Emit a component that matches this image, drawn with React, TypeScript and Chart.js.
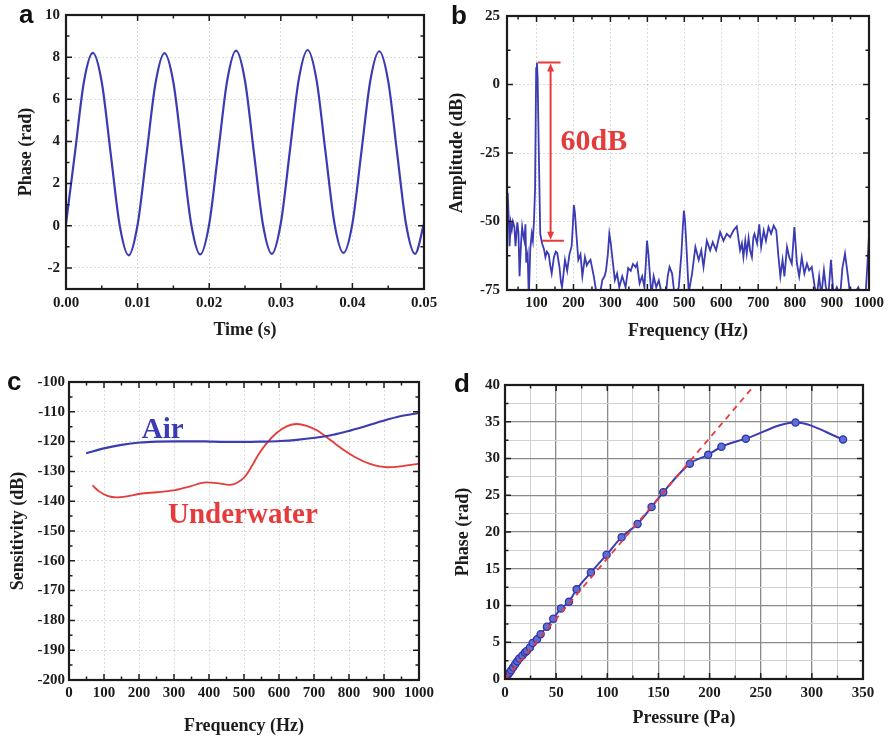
import React, { useEffect, useRef } from 'react';
import { Chart, registerables } from 'chart.js';

Chart.register(...registerables);

const SERIF = '"Liberation Serif", "Times New Roman", serif';
const SANS = '"Liberation Sans", Arial, sans-serif';
const BLUE = '#3b3bb3';
const RED = '#e63b3b';
const INK = '#1c1c1c';

// ---------- Panel a: phase vs time ----------
const timeS = [
  0, 0.00125, 0.0025, 0.00375, 0.005, 0.00625, 0.0075, 0.00875,
  0.01, 0.01125, 0.0125, 0.01375, 0.015, 0.01625, 0.0175, 0.01875,
  0.02, 0.02125, 0.0225, 0.02375, 0.025, 0.02625, 0.0275, 0.02875,
  0.03, 0.03125, 0.0325, 0.03375, 0.035, 0.03625, 0.0375, 0.03875,
  0.04, 0.04125, 0.0425, 0.04375, 0.045, 0.04625, 0.0475, 0.04875,
  0.05,
];
const phaseRad = [
  0.10, 3.45, 6.82, 8.20, 6.80, 3.40, 0.02, -1.40,
  0.05, 3.40, 6.76, 8.19, 6.80, 3.42, 0.05, -1.36,
  0.08, 3.46, 6.86, 8.31, 6.88, 3.46, 0.07, -1.33,
  0.12, 3.50, 6.92, 8.34, 6.90, 3.48, 0.10, -1.29,
  0.10, 3.48, 6.88, 8.28, 6.86, 3.44, 0.06, -1.33,
  0.10,
];
const aXTicks = [0, 0.01, 0.02, 0.03, 0.04, 0.05];
const aYTicks = [-2, 0, 2, 4, 6, 8, 10];

// ---------- Panel b: spectrum ----------
const specFreq = [
  20, 22, 25, 27, 30, 33, 36, 40, 43, 48,
  51, 54, 58, 61, 64, 67, 70, 72, 76, 79,
  83, 87, 90, 93, 96, 99, 101, 103, 106, 110,
  115, 120, 124, 128, 133, 137, 141, 147, 152, 156,
  162, 166, 169, 173, 177, 183, 189, 195, 198, 201,
  204, 207, 213, 219, 224, 231, 236, 240, 246, 255,
  262, 270, 278, 284, 288, 293, 297, 301, 305, 312,
  318, 324, 332, 341, 348, 355, 361, 368, 372, 379,
  386, 392, 396, 399, 403, 406, 411, 417, 424, 431,
  440, 449, 455, 460, 467, 472, 476, 485, 492, 496,
  499, 502, 505, 512, 521, 530, 539, 546, 552, 561,
  570, 577, 586, 597, 606, 615, 624, 633, 642, 651,
  656, 660, 665, 669, 674, 678, 683, 687, 690, 697,
  703, 708, 715, 721, 728, 735, 742, 749, 755, 760,
  766, 771, 778, 784, 791, 798, 805, 811, 818, 825,
  832, 838, 845, 853, 859, 865, 871, 878, 883, 890,
  897, 904, 913, 922, 928, 935, 943, 949, 962, 971,
  979, 991, 996, 1000,
];
const specAmp = [
  -40, -39.5, -50, -59, -50.5, -53, -50, -52, -59, -50.3,
  -54, -70, -58, -52, -55, -57, -51, -65, -62, -78,
  -60, -54.5, -57, -50, -38, 6, 8, 2, -24, -54.5,
  -58, -60, -63, -61, -62, -66, -69, -63, -61, -61.5,
  -66.6, -72, -74, -69, -64, -68, -62, -59, -52, -44,
  -47, -53, -64, -62, -70, -63, -66, -65, -64, -70,
  -76, -78, -71.4, -70, -68, -62, -54.5, -58, -63, -71.4,
  -69, -74, -70, -74, -67, -68, -65.5, -66.6, -65.4, -72.6,
  -70, -74, -65, -57, -62, -68, -77, -70, -74, -71.5,
  -77, -78, -70, -66.6, -69, -75, -77, -74, -62, -52,
  -46, -50, -57, -76, -69, -59.3, -64, -60.5, -66.6, -57,
  -60.5, -57.5, -60.5, -53.9, -57, -54.5, -55.7, -53.3, -51.8, -60.5,
  -58, -63, -57, -61.7, -56, -60.5, -63, -55.7, -54.5, -58,
  -51, -59.3, -53.3, -57, -52, -54.5, -51.5, -53.3, -63, -70,
  -64, -70, -59.3, -63, -65.4, -52, -65.4, -70, -63, -69,
  -65.4, -67.8, -66.6, -73.8, -77, -70, -77, -67.8, -73.8, -77,
  -64, -77, -74, -77, -67, -61.7, -70, -77, -76, -74,
  -77, -76, -65, -55,
];
const bXTicks = [100, 200, 300, 400, 500, 600, 700, 800, 900, 1000];
const bYTicks = [-75, -50, -25, 0, 25];
const dbArrowFreq = 138;
const dbTop = 8;
const dbBottom = -57;
const dbTopCap = [104, 165];
const dbBottomCap = [115, 174];
const dbLabel = '60dB';
const dbLabelAt = [165, -24];

// ---------- Panel c: sensitivity ----------
const airFreq = [49, 103, 150, 203, 250, 308, 374, 403, 450, 503, 550, 603, 651, 703, 755, 803, 851, 898, 946, 1000];
const airSens = [-123.9, -122.2, -121.1, -120.3, -120.0, -119.9, -119.9, -120.0, -120.1, -120.1, -120.0, -119.8, -119.4, -118.7, -117.7, -116.3, -114.7, -113.0, -111.5, -110.4];
const waterFreq = [67, 86, 110, 136, 165, 203, 250, 298, 346, 393, 422, 460, 479, 503, 522, 541, 565, 593, 622, 651, 679, 708, 746, 784, 822, 860, 908, 946, 1000];
const waterSens = [-134.7, -136.7, -138.2, -138.7, -138.4, -137.5, -137.0, -136.4, -135.0, -133.7, -133.9, -134.5, -133.9, -131.7, -128.3, -124.4, -120.5, -117.1, -114.9, -114.1, -114.7, -116.2, -119.4, -122.7, -125.5, -127.5, -128.6, -128.3, -127.4];
const cXTicks = [0, 100, 200, 300, 400, 500, 600, 700, 800, 900, 1000];
const cYTicks = [-200, -190, -180, -170, -160, -150, -140, -130, -120, -110, -100];
const airLabelAt = [208, -118.8];
const waterLabelAt = [283, -147.3];

// ---------- Panel d: phase vs pressure ----------
const pressurePa = [0, 1.5, 3, 4.5, 6, 8, 10, 12, 14, 17, 19.5, 21.2, 24.4, 27, 31.3, 34.8, 41, 47.2, 54.7, 62.5, 70, 84, 99.3, 114, 129.6, 143.3, 154.7, 180.7, 198.6, 211.6, 235.4, 284, 330.5];
const phaseD = [0, 0.3, 0.6, 0.9, 1.2, 1.6, 2.0, 2.4, 2.8, 3.2, 3.6, 3.8, 4.3, 4.9, 5.4, 6.1, 7.1, 8.2, 9.6, 10.5, 12.2, 14.5, 16.9, 19.3, 21.1, 23.4, 25.4, 29.3, 30.5, 31.6, 32.7, 34.9, 32.6];
const fitPressure = [0, 241];
const fitPhase = [0, 39.5];
const dXTicks = [0, 25, 50, 75, 100, 125, 150, 175, 200, 225, 250, 275, 300, 325, 350];
const dYTicks = [0, 2.5, 5, 7.5, 10, 12.5, 15, 17.5, 20, 22.5, 25, 27.5, 30, 32.5, 35, 37.5, 40];

// ---------- helpers ----------
const pts = (xs: number[], ys: number[]) => xs.map((x, i) => ({ x, y: ys[i] }));

const framePlugin = {
  id: 'frame',
  afterDraw(chart: any, _args: any, opts: any) {
    const { ctx, chartArea: a } = chart;
    const xs = chart.scales.x;
    const ys = chart.scales.y;
    ctx.save();
    ctx.strokeStyle = INK;
    ctx.lineWidth = 1.5;
    const marks = (scale: any, minor: number, major: number, horizontal: boolean) => {
      const start = Math.ceil(scale.min / minor - 1e-9) * minor;
      const n = Math.floor((scale.max - start) / minor + 1e-9);
      for (let i = 0; i <= n; i++) {
        const v = start + i * minor;
        const r = v / major;
        const isMajor = Math.abs(r - Math.round(r)) < 1e-6;
        const len = isMajor ? 6 : 3.5;
        const p = scale.getPixelForValue(v);
        ctx.beginPath();
        if (horizontal) {
          ctx.moveTo(p, a.bottom); ctx.lineTo(p, a.bottom - len);
          ctx.moveTo(p, a.top); ctx.lineTo(p, a.top + len);
        } else {
          ctx.moveTo(a.left, p); ctx.lineTo(a.left + len, p);
          ctx.moveTo(a.right, p); ctx.lineTo(a.right - len, p);
        }
        ctx.stroke();
      }
    };
    marks(xs, opts.xMinor, opts.xMajor, true);
    marks(ys, opts.yMinor, opts.yMajor, false);
    ctx.lineWidth = 2.2;
    ctx.strokeRect(a.left, a.top, a.right - a.left, a.bottom - a.top);
    ctx.restore();
  },
};

const textPlugin = {
  id: 'texts',
  afterDatasetsDraw(chart: any, _args: any, opts: any) {
    const { ctx } = chart;
    const xs = chart.scales.x;
    const ys = chart.scales.y;
    ctx.save();
    for (const t of opts.items || []) {
      ctx.font = t.font;
      ctx.fillStyle = t.color;
      ctx.textAlign = 'left';
      ctx.textBaseline = 'alphabetic';
      ctx.fillText(t.text, xs.getPixelForValue(t.x), ys.getPixelForValue(t.y));
    }
    ctx.restore();
  },
};

const arrowPlugin = {
  id: 'dbArrow',
  afterDatasetsDraw(chart: any) {
    const { ctx } = chart;
    const xs = chart.scales.x;
    const ys = chart.scales.y;
    const xp = xs.getPixelForValue(dbArrowFreq);
    const yt = ys.getPixelForValue(dbTop);
    const yb = ys.getPixelForValue(dbBottom);
    ctx.save();
    ctx.strokeStyle = RED;
    ctx.fillStyle = RED;
    ctx.lineWidth = 2;
    ctx.beginPath();
    ctx.moveTo(xp, yt + 6); ctx.lineTo(xp, yb - 6);
    ctx.moveTo(xs.getPixelForValue(dbTopCap[0]), yt); ctx.lineTo(xs.getPixelForValue(dbTopCap[1]), yt);
    ctx.moveTo(xs.getPixelForValue(dbBottomCap[0]), yb); ctx.lineTo(xs.getPixelForValue(dbBottomCap[1]), yb);
    ctx.stroke();
    ctx.beginPath();
    ctx.moveTo(xp, yt + 1); ctx.lineTo(xp - 3.5, yt + 9); ctx.lineTo(xp + 3.5, yt + 9); ctx.closePath();
    ctx.moveTo(xp, yb - 1); ctx.lineTo(xp - 3.5, yb - 9); ctx.lineTo(xp + 3.5, yb - 9); ctx.closePath();
    ctx.fill();
    ctx.font = `bold 30px ${SERIF}`;
    ctx.textBaseline = 'alphabetic';
    ctx.fillText(dbLabel, xs.getPixelForValue(dbLabelAt[0]), ys.getPixelForValue(dbLabelAt[1]));
    ctx.restore();
  },
};

type AxisP = {
  min: number; max: number; ticks: number[]; fmt: (v: number) => string; title: string;
  titlePad: number; tickPad: number; size: number; horizontal: boolean; grid: any; dash?: number[];
};

function axis(p: AxisP) {
  return {
    type: 'linear',
    min: p.min,
    max: p.max,
    afterBuildTicks: (s: any) => { s.ticks = p.ticks.map((v) => ({ value: v })); },
    afterFit: (s: any) => { if (p.horizontal) s.height = p.size; else s.width = p.size; },
    ticks: {
      callback: (v: any) => p.fmt(Number(v)),
      padding: p.tickPad,
      color: INK,
      font: { family: SERIF, weight: 'bold', size: 15 },
      maxRotation: 0, minRotation: 0, autoSkip: false,
    },
    grid: { drawTicks: false, ...p.grid },
    border: { display: false, dash: p.dash || [] },
    title: {
      display: true, text: p.title, color: INK,
      font: { family: SERIF, weight: 'bold', size: 18, lineHeight: 1 },
      padding: p.horizontal ? { top: 0, bottom: p.titlePad } : { top: p.titlePad, bottom: 0 },
    },
  };
}

const baseOptions = (pad: any) => ({
  responsive: false,
  animation: false,
  events: [],
  layout: { padding: { left: 0, bottom: 0, ...pad } },
});

const faintGrid = { color: 'rgba(0,0,0,0.14)', lineWidth: 1 };

function configA(): any {
  return {
    type: 'line',
    data: { datasets: [{ data: pts(timeS, phaseRad), borderColor: BLUE, borderWidth: 2.2, pointRadius: 0, cubicInterpolationMode: 'monotone' }] },
    options: {
      ...baseOptions({ top: 14, right: 21 }),
      plugins: { legend: { display: false }, tooltip: { enabled: false }, frame: { xMinor: 0.005, xMajor: 0.01, yMinor: 1, yMajor: 2 } },
      scales: {
        x: axis({ min: 0, max: 0.05, ticks: aXTicks, fmt: (v) => v.toFixed(2), title: 'Time (s)', titlePad: 1, tickPad: 5, size: 51, horizontal: true, grid: faintGrid, dash: [2, 2] }),
        y: axis({ min: -3, max: 10, ticks: aYTicks, fmt: (v) => String(v), title: 'Phase (rad)', titlePad: 17, tickPad: 6, size: 66, horizontal: false, grid: faintGrid, dash: [2, 2] }),
      },
    },
    plugins: [framePlugin],
  };
}

function configB(): any {
  return {
    type: 'line',
    data: { datasets: [{ data: pts(specFreq, specAmp), borderColor: BLUE, borderWidth: 1.8, pointRadius: 0, tension: 0 }] },
    options: {
      ...baseOptions({ top: 14, right: 21 }),
      plugins: { legend: { display: false }, tooltip: { enabled: false }, frame: { xMinor: 50, xMajor: 100, yMinor: 12.5, yMajor: 25 } },
      scales: {
        x: axis({ min: 20, max: 1000, ticks: bXTicks, fmt: (v) => String(v), title: 'Frequency (Hz)', titlePad: 0, tickPad: 4, size: 50, horizontal: true, grid: faintGrid, dash: [2, 2] }),
        y: axis({ min: -75, max: 25, ticks: bYTicks, fmt: (v) => String(v), title: 'Amplitude (dB)', titlePad: 3, tickPad: 7, size: 62, horizontal: false, grid: faintGrid, dash: [2, 2] }),
      },
    },
    plugins: [arrowPlugin, framePlugin],
  };
}

function configC(): any {
  return {
    type: 'line',
    data: {
      datasets: [
        { data: pts(airFreq, airSens), borderColor: BLUE, borderWidth: 2.2, pointRadius: 0, cubicInterpolationMode: 'monotone' },
        { data: pts(waterFreq, waterSens), borderColor: RED, borderWidth: 1.8, pointRadius: 0, cubicInterpolationMode: 'monotone' },
      ],
    },
    options: {
      ...baseOptions({ top: 42, right: 26 }),
      plugins: {
        legend: { display: false }, tooltip: { enabled: false },
        frame: { xMinor: 50, xMajor: 100, yMinor: 5, yMajor: 10 },
        texts: {
          items: [
            { text: 'Air', x: airLabelAt[0], y: airLabelAt[1], color: BLUE, font: `bold 29px ${SERIF}` },
            { text: 'Underwater', x: waterLabelAt[0], y: waterLabelAt[1], color: RED, font: `bold 29px ${SERIF}` },
          ],
        },
      },
      scales: {
        x: axis({ min: 0, max: 1000, ticks: cXTicks, fmt: (v) => String(v), title: 'Frequency (Hz)', titlePad: 3, tickPad: 4, size: 58, horizontal: true, grid: faintGrid, dash: [2, 2] }),
        y: axis({ min: -200, max: -100, ticks: cYTicks, fmt: (v) => String(v), title: 'Sensitivity (dB)', titlePad: 9, tickPad: 4, size: 69, horizontal: false, grid: faintGrid, dash: [2, 2] }),
      },
    },
    plugins: [textPlugin, framePlugin],
  };
}

function configD(): any {
  const gx = { color: (c: any) => (c.tick && c.tick.value % 50 === 0 ? '#8a8a8a' : '#d2d2d2'), lineWidth: (c: any) => (c.tick && c.tick.value % 50 === 0 ? 1.3 : 1) };
  const gy = { color: (c: any) => (c.tick && c.tick.value % 5 === 0 ? '#8a8a8a' : '#d2d2d2'), lineWidth: (c: any) => (c.tick && c.tick.value % 5 === 0 ? 1.3 : 1) };
  return {
    type: 'line',
    data: {
      datasets: [
        { data: pts(fitPressure, fitPhase), borderColor: RED, borderWidth: 1.8, borderDash: [6, 5], pointRadius: 0, tension: 0 },
        {
          data: pts(pressurePa, phaseD), borderColor: BLUE, borderWidth: 2, cubicInterpolationMode: 'monotone',
          pointRadius: 3.6, pointBackgroundColor: '#5c6fd6', pointBorderColor: '#3434a6', pointBorderWidth: 1.3,
        },
      ],
    },
    options: {
      ...baseOptions({ top: 45, right: 27 }),
      plugins: { legend: { display: false }, tooltip: { enabled: false }, frame: { xMinor: 25, xMajor: 50, yMinor: 2.5, yMajor: 5 } },
      scales: {
        x: axis({ min: 0, max: 350, ticks: dXTicks, fmt: (v) => (v % 50 === 0 ? String(v) : ''), title: 'Pressure (Pa)', titlePad: 11, tickPad: 5, size: 59, horizontal: true, grid: gx }),
        y: axis({ min: 0, max: 40, ticks: dYTicks, fmt: (v) => (v % 5 === 0 ? String(v) : ''), title: 'Phase (rad)', titlePad: 9, tickPad: 5, size: 60, horizontal: false, grid: gy }),
      },
    },
    plugins: [framePlugin],
  };
}

function Panel({ left, top, width, height, make }: { left: number; top: number; width: number; height: number; make: () => any }) {
  const ref = useRef<HTMLCanvasElement>(null);
  useEffect(() => {
    const chart = new Chart(ref.current as HTMLCanvasElement, make());
    return () => chart.destroy();
  }, []);
  return <canvas ref={ref} width={width} height={height} style={{ position: 'absolute', left, top, width, height }} />;
}

const letterStyle = (left: number, top: number): React.CSSProperties => ({
  position: 'absolute', left, top, font: `bold 26px ${SANS}`, lineHeight: '26px', color: '#111',
});

export default function App() {
  useEffect(() => { document.body.style.margin = '0'; }, []);
  return (
    <div style={{ position: 'relative', width: 890, height: 738, background: '#fff', overflow: 'hidden' }}>
      <Panel left={0} top={0} width={445} height={340} make={configA} />
      <Panel left={445} top={0} width={445} height={340} make={configB} />
      <Panel left={0} top={340} width={445} height={398} make={configC} />
      <Panel left={445} top={340} width={445} height={398} make={configD} />
      <div style={letterStyle(19, 1)}>a</div>
      <div style={letterStyle(451, 2)}>b</div>
      <div style={letterStyle(7, 368)}>c</div>
      <div style={letterStyle(454, 370)}>d</div>
    </div>
  );
}
